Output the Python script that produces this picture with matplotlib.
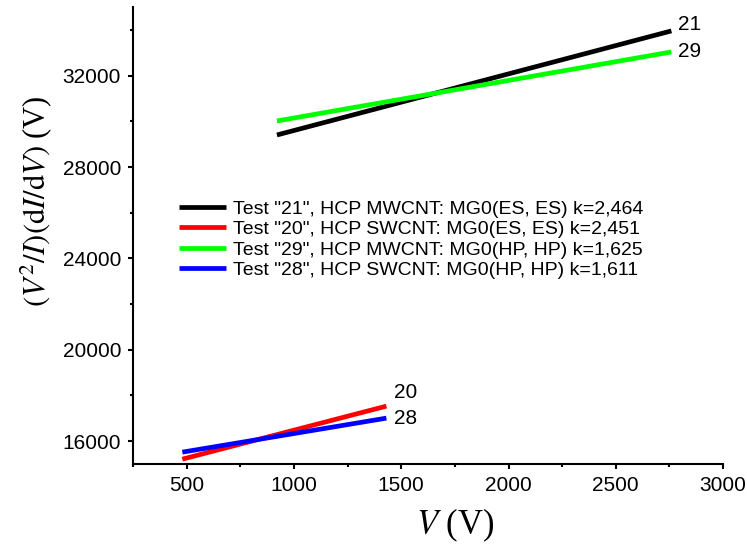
import matplotlib.pyplot as plt
from matplotlib.ticker import MultipleLocator

# end points of the fitted lines (V, (V^2/I)(dI/dV))
v_21 = [921, 2759]
y_21 = [29406, 33963]
v_20 = [480, 1431]
y_20 = [15211, 17533]
v_29 = [921, 2759]
y_29 = [30020, 33043]
v_28 = [480, 1431]
y_28 = [15518, 17008]

labels = [
    'Test "21", HCP MWCNT: MG0(ES, ES) k=2,464',
    'Test "20", HCP SWCNT: MG0(ES, ES) k=2,451',
    'Test "29", HCP MWCNT: MG0(HP, HP) k=1,625',
    'Test "28", HCP SWCNT: MG0(HP, HP) k=1,611',
]
tags = ["21", "20", "29", "28"]

plt.rcParams['font.family'] = ['Liberation Sans', 'DejaVu Sans']
plt.rcParams['mathtext.fontset'] = 'stix'

fig = plt.figure(figsize=(7.47, 5.56), dpi=100)
ax = fig.add_axes([0.178, 0.1655, 0.79, 0.8215])

series = [(v_21, y_21, 'black'), (v_20, y_20, '#ff0000'),
          (v_29, y_29, '#00ff00'), (v_28, y_28, '#0000ff')]
for (xs, ys, c), lab in zip(series, labels):
    ax.plot(xs, ys, color=c, lw=3.4, label=lab, solid_capstyle='butt')

# end tags
offsets = {"21": (5, 4.3), "29": (5, 0.5), "20": (5.8, 10), "28": (5.8, -0.5)}
for (xs, ys, c), t in zip(series, tags):
    dx, dy = offsets[t]
    ax.annotate(t, (xs[-1], ys[-1]), xytext=(dx, dy), textcoords='offset points',
                fontsize=15, va='center', ha='left')

ax.set_xlim(250, 3000)
ax.set_ylim(15000, 35000)
ax.xaxis.set_major_locator(MultipleLocator(500))
ax.xaxis.set_minor_locator(MultipleLocator(250))
ax.yaxis.set_major_locator(MultipleLocator(4000))
ax.yaxis.set_minor_locator(MultipleLocator(2000))

for s in ['top', 'right']:
    ax.spines[s].set_visible(False)
for s in ['left', 'bottom']:
    ax.spines[s].set_linewidth(1.5)
ax.tick_params(which='major', direction='out', length=3.6, width=1.5, labelsize=15)
ax.tick_params(axis='x', which='major', pad=5)
ax.tick_params(axis='y', which='major', pad=5)
ax.tick_params(which='minor', direction='out', length=2.5, width=1.5)

ax.set_xlabel(r'$V$ (V)', fontsize=25, family='Liberation Serif', va='center')
ax.xaxis.set_label_coords(0.547, -0.1335)
ax.set_ylabel(r'$(V^2/I)(\mathrm{d}I/\mathrm{d}V)$ (V)', fontsize=22,
              family='Liberation Serif', va='center')
ax.yaxis.set_label_coords(-0.164, 0.575)

ax.legend(loc='center left', bbox_to_anchor=(0.24, 0.569),
          bbox_transform=fig.transFigure, frameon=False, borderpad=0,
          borderaxespad=0, fontsize=14, handlelength=2.4, labelspacing=0.15,
          handletextpad=0.36)

fig.savefig('out.png', dpi=100)
